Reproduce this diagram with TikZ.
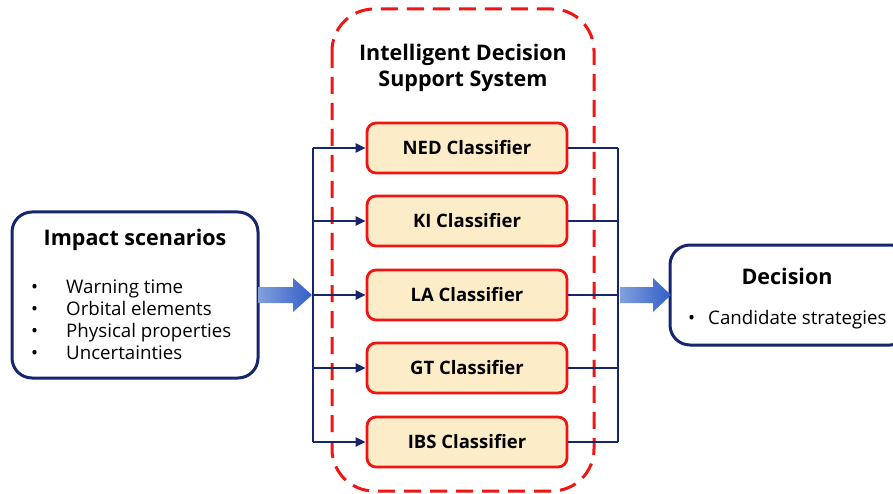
\documentclass[tikz,border=0pt]{standalone}
\usepackage{fontspec}
\setmainfont{Open Sans}
\usetikzlibrary{arrows.meta}
\definecolor{navy}{RGB}{22,38,110}
\definecolor{redc}{RGB}{240,20,20}
\definecolor{peach}{RGB}{253,236,200}
\definecolor{alight}{RGB}{130,160,220}
\definecolor{adark}{RGB}{50,95,200}
\begin{document}
\begin{tikzpicture}[x=1pt,y=-1pt,
  outerbox/.style={draw=navy,line width=3pt,rounded corners=20pt,fill=white},
  clsbox/.style={draw=redc,line width=2.8pt,rounded corners=9pt,fill=peach,minimum width=200pt,minimum height=50pt,font=\fontsize{18.5}{22}\selectfont\bfseries},
  conn/.style={draw=navy,line width=2.8pt},
  arr/.style={conn,-{Triangle[length=10pt,width=9pt]}},
  title/.style={font=\fontsize{21.5}{26}\selectfont\bfseries,align=center},
  body/.style={font=\fontsize{18.7}{21.7}\selectfont,align=left,inner sep=0pt},
]
\useasboundingbox (0,0) rectangle (893,494);
\fill[white] (0,0) rectangle (893,494);

% dashed system frame
\draw[redc,line width=3pt,dash pattern=on 17pt off 9pt,rounded corners=42pt] (332,9) rectangle (594,491);
\node[title] (sys) at (463,68) {Intelligent Decision\\Support System};

% classifiers
\node[clsbox] (ned) at (467,148) {NED Classifier};
\node[clsbox] (ki)  at (467,221) {KI Classifier};
\node[clsbox] (la)  at (467,295) {LA Classifier};
\node[clsbox] (gt)  at (467,368) {GT Classifier};
\node[clsbox] (ibs) at (467,442) {IBS Classifier};

% buses
\coordinate (lt) at (313,148);
\coordinate (lb) at (313,442);
\coordinate (rt) at (618,148);
\coordinate (rb) at (618,442);
\draw[conn] (lt) -- (lb);
\draw[conn] (rt) -- (rb);
\foreach \n in {ned,ki,la,gt,ibs}{
  \draw[arr] (lt |- \n.west) -- (\n.west);
  \draw[conn] (\n.east) -- (rt |- \n.east);
}

% input box
\draw[outerbox] (12,212) rectangle (258,378);
\node[title] (imp) at (135,240) {Impact scenarios};
\node[body,anchor=base west] (list) at (31,359) {%
  \makebox[35pt][l]{\textbullet}Warning time\\
  \makebox[35pt][l]{\textbullet}Orbital elements\\
  \makebox[35pt][l]{\textbullet}Physical properties\\
  \makebox[35pt][l]{\textbullet}Uncertainties};
\coordinate (inR) at (258,295);

% output box (cut off at the right edge)
\begin{scope}
\clip (0,0) rectangle (893,494);
\draw[outerbox] (670,245) rectangle (910,345);
\end{scope}
\node[title] (dec) at (787,276) {Decision};
\node[body,anchor=base west] (cand) at (688,324) {\makebox[20pt][l]{\textbullet}Candidate strategies};

% block arrows
\shade[left color=alight,right color=adark]
  (258,287) -- (293,287) -- (293,278) -- (312,295) -- (293,312) -- (293,303) -- (258,303) -- cycle;
\shade[left color=alight,right color=adark]
  (620,287) -- (653,287) -- (653,278) -- (671,295) -- (653,312) -- (653,303) -- (620,303) -- cycle;
\end{tikzpicture}
\end{document}
